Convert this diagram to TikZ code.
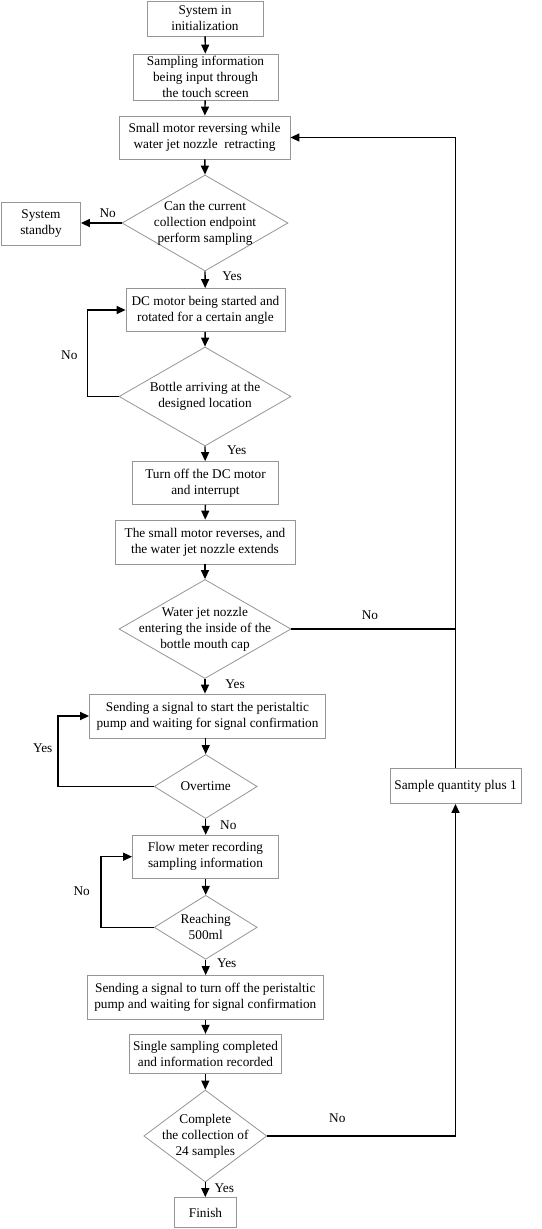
\documentclass[tikz,border=0pt]{standalone}
\usepackage{fontspec}
\setmainfont{Liberation Serif}
\usetikzlibrary{shapes.geometric,arrows.meta}
\definecolor{bordergray}{RGB}{150,150,150}
\begin{document}
\begin{tikzpicture}[x=1pt,y=-1pt,
  font=\fontsize{13.3}{16}\selectfont,
  box/.style={draw=bordergray,line width=0.8pt,align=center,inner sep=1pt,fill=white},
  dia/.style={draw=bordergray,line width=0.8pt,shape=diamond,inner sep=0pt},
  dtext/.style={align=center,inner sep=0pt},
  arr/.style={line width=1.4pt,-{Triangle[length=9pt,width=8pt]}},
  ln/.style={line width=1.4pt},
  lab/.style={inner sep=0pt}
]
\useasboundingbox (0,0) rectangle (541,1229);
\fill[white] (0,0) rectangle (541,1229);

\node[box,minimum width=116,minimum height=35] (n1) at (205,18.5) {System in\\initialization};
\node[box,minimum width=145,minimum height=46] (n2) at (205.5,77) {Sampling information\\being input through\\the touch screen};
\node[box,minimum width=171,minimum height=43] (n3) at (204.5,137.5) {Small motor reversing while\\water jet nozzle\ \ retracting};
\node[dia,minimum width=166,minimum height=96] (d1) at (205,223) {};
\node[dtext] (d1t) at (d1) {Can the current\\collection endpoint\\perform sampling};
\node[box,minimum width=79,minimum height=43] (sb) at (41,224) {System\\standby};
\node[box,minimum width=159,minimum height=43] (n4) at (205.5,310) {DC motor being started and\\rotated for a certain angle};
\node[dia,minimum width=172,minimum height=99] (d2) at (205,396.5) {};
\node[dtext] (d2t) at (d2) {Bottle arriving at the\\designed location};
\node[box,minimum width=146,minimum height=43] (n5) at (205.5,483) {Turn off the DC motor\\and interrupt};
\node[box,minimum width=180,minimum height=44] (n6) at (205,542) {The small motor reverses, and\\the water jet nozzle extends};
\node[dia,minimum width=172,minimum height=99] (d3) at (205,629) {};
\node[dtext] (d3t) at (d3) {Water jet nozzle\\entering the inside of the\\bottle mouth cap};
\node[box,minimum width=236,minimum height=44] (n7) at (207.5,716) {Sending a signal to start the peristaltic\\pump and waiting for signal confirmation};
\node[dia,minimum width=103,minimum height=64] (d4) at (205.7,786.5) {};
\node[dtext] (d4t) at (d4) {Overtime};
\node[box,minimum width=146,minimum height=43] (n8) at (205.5,856.7) {Flow meter recording\\sampling information};
\node[dia,minimum width=103,minimum height=64] (d5) at (205.7,927.3) {};
\node[dtext] (d5t) at (d5) {Reaching\\500ml};
\node[box,minimum width=236,minimum height=44] (n9) at (205.3,997.5) {Sending a signal to turn off the peristaltic\\pump and waiting for signal confirmation};
\node[box,minimum width=152,minimum height=39] (n10) at (205.5,1053.8) {Single sampling completed\\and information recorded};
\node[dia,minimum width=123,minimum height=92] (d6) at (205.3,1136) {};
\node[dtext] (d6t) at (d6) {Complete\\the collection of\\24 samples};
\node[box,minimum width=62,minimum height=30] (fin) at (205.5,1212.5) {Finish};
\node[box,minimum width=131,minimum height=35] (sq) at (455.5,786) {Sample quantity plus 1};

\coordinate (rj) at (455.5,629);
\coordinate (rb) at (455.5,1136);

% main flow
\draw[arr] (n1) -- (n2);
\draw[arr] (n2) -- (n3);
\draw[arr] (n3) -- (d1.north);
\draw[arr] (d1.west) -- (d1.west -| sb.east);
\draw[arr] (d1.south) -- (n4);
\draw[arr] (n4) -- (d2.north);
\draw[arr] (d2.west) -- ++(-31,0) |- (n4.west);
\draw[arr] (d2.south) -- (n5);
\draw[arr] (n5) -- (n6);
\draw[arr] (n6) -- (d3.north);
\draw[ln] (d3.east) -- (rj);
\draw[arr] (d3.south) -- (n7.north -| d3.south);
\draw[arr] (n7.south -| d4.north) -- (d4.north);
\draw[arr] (d4.west) -- ++(-95.7,0) |- (n7.west);
\draw[arr] (d4.south) -- (n8.north -| d4.south);
\draw[arr] (n8.south -| d5.north) -- (d5.north);
\draw[arr] (d5.west) -- ++(-53,0) |- (n8.west);
\draw[arr] (d5.south) -- (n9.north -| d5.south);
\draw[arr] (n9.south -| n10.north) -- (n10);
\draw[arr] (n10.south -| d6.north) -- (d6.north);
\draw[arr] (d6.south) -- (fin.north -| d6.south);
\draw[arr] (d6.east) -- (rb) -- (sq.south);
\draw[arr] (sq.north) -- (sq.north |- n3.east) -- (n3.east);

% labels
\node[lab] (l1) at (107.7,213.3) {No};
\node[lab] (l2) at (232,276.7) {Yes};
\node[lab] (l3) at (69.3,355) {No};
\node[lab] (l4) at (236.7,450) {Yes};
\node[lab] (l5) at (370,615) {No};
\node[lab] (l6) at (235,684.3) {Yes};
\node[lab] (l7) at (42.7,748.3) {Yes};
\node[lab] (l8) at (228.3,825) {No};
\node[lab] (l9) at (81.7,890.7) {No};
\node[lab] (l10) at (226.7,962.7) {Yes};
\node[lab] (l11) at (337.3,1117.7) {No};
\node[lab] (l12) at (224.3,1188.3) {Yes};
\end{tikzpicture}
\end{document}
